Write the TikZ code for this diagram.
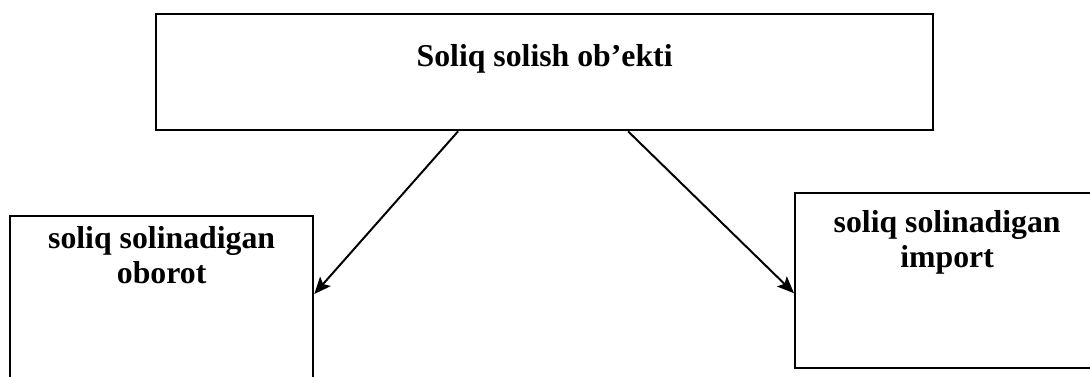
\documentclass[tikz,border=0pt]{standalone}
\usepackage{fontspec}
\setmainfont{Liberation Serif}
\usetikzlibrary{arrows.meta, calc, positioning}

\begin{document}
\begin{tikzpicture}[
  box/.style={draw, line width=1.6pt, rectangle, inner sep=0pt},
  txt/.style={inner sep=0pt, align=center, font=\bfseries\fontsize{22.6pt}{24.9pt}\selectfont},
  arr/.style={line width=1.4pt, -{Stealth[length=12pt, width=10pt, inset=2.5pt]}}
 ]
 \clip (0,0) rectangle (27.25,9.4);
 \fill[white] (0,0) rectangle (27.25,9.4);

 \node[box, minimum width=19.425cm, minimum height=2.9cm, anchor=north west] (obj) at (3.875,9.075) {};
 \node[box, minimum width=7.575cm, minimum height=4.175cm, anchor=north west] (oborot) at (0.225,4.025) {};
 \node[box, minimum width=7.6cm, minimum height=4.375cm, anchor=north west] (import) at (19.85,4.6) {};

 \node[txt, below=0.78cm of obj.north] (objtxt) {Soliq solish ob’ekti};
 \node[txt, below=0.28cm of oborot.north] (oborottxt) {soliq solinadigan\\oborot};
 \node[txt, below=0.45cm of import.north] (importtxt) {soliq solinadigan\\import};

 \draw[arr] ($(obj.south west)!0.389!(obj.south east)$) -- ($(oborot.north east)!0.467!(oborot.south east)$);
 \draw[arr] ($(obj.south west)!0.607!(obj.south east)$) -- ($(import.north west)!0.571!(import.south west)$);
\end{tikzpicture}
\end{document}
